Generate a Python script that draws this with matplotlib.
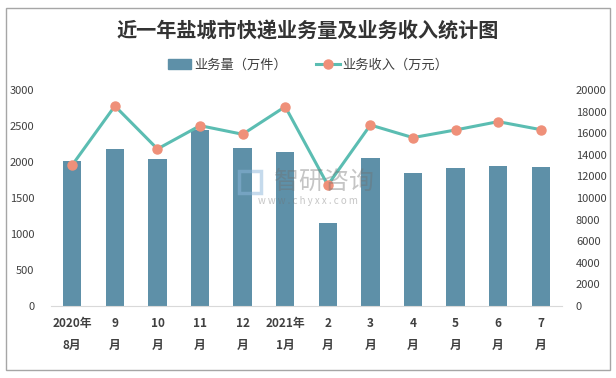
import matplotlib.pyplot as plt
from matplotlib.patches import Rectangle
from matplotlib.lines import Line2D
import numpy as np

plt.rcParams['font.family'] = ['Noto Sans CJK SC', 'DejaVu Sans']

# 数据
months = ["2020年\n8月", "9\n月", "10\n月", "11\n月", "12\n月", "2021年\n1月",
          "2\n月", "3\n月", "4\n月", "5\n月", "6\n月", "7\n月"]
volume = [2010, 2176, 2037, 2444, 2190, 2134, 1148, 2051, 1843, 1912, 1940, 1926]
revenue = [13060, 18520, 14540, 16700, 15900, 18460, 11200, 16760, 15590, 16300, 17070, 16330]

bar_color = '#5E90A8'
line_color = '#5BBDB2'
dot_color = '#EF9079'
text_color = '#404040'

fig = plt.figure(figsize=(6.16, 3.78), dpi=100)
ax = fig.add_axes([51/616, 1-306/378, (562-51)/616, (306-90)/378])
ax2 = ax.twinx()

x = np.arange(len(months))
ax.bar(x, volume, width=0.43, color=bar_color, zorder=2)
ax2.plot(x, revenue, color=line_color, lw=2.2, marker='o', ms=6.5,
         mfc=dot_color, mec=dot_color, zorder=3)

ax.set_xlim(-0.5, len(months) - 0.5)
ax.set_ylim(0, 3000)
ax.set_yticks(range(0, 3001, 500))
ax2.set_ylim(0, 20000)
ax2.set_yticks(range(0, 20001, 2000))

for a in (ax, ax2):
    for s in a.spines.values():
        s.set_visible(False)
    a.tick_params(length=0, labelsize=8, colors=text_color)
ax.spines['bottom'].set_visible(True)
ax.spines['bottom'].set_color('#D9D9D9')
ax.tick_params(axis='y', pad=12)
ax2.tick_params(axis='y', pad=10)

ax.set_xticks(x)
ax.set_xticklabels(months, fontsize=8.5, fontweight='bold', linespacing=1.9)
ax.tick_params(axis='x', pad=8)

# 图例
handles = [Rectangle((0, 0), 1, 1, color=bar_color),
           Line2D([0], [0], color=line_color, lw=2.2, marker='o', ms=6.5,
                  mfc=dot_color, mec=dot_color)]
fig.legend(handles, ["业务量（万件）", "业务收入（万元）"], loc='center',
           bbox_to_anchor=(0.5, 1-65/378), ncol=2, frameon=False, fontsize=9.5,
           handlelength=1.8, columnspacing=2.2, handletextpad=0.2,
           labelcolor=text_color)

fig.text(0.5, 1-31/378, "近一年盐城市快递业务量及业务收入统计图", ha='center', va='center',
         fontsize=14.5, fontweight='bold', color='#333333')

# 水印
fig.text(324/616, 1-182/378, "智研咨询", ha='center', va='center', fontsize=18,
         color='#707070', alpha=0.4)
fig.text(308/616, 1-201/378, "w w w . c h y x x . c o m", ha='center', va='center',
         fontsize=7, color='#707070', alpha=0.4)
fig.patches.append(Rectangle((239/616, 1-193/378), 22/616, 22/378, transform=fig.transFigure,
                             fill=False, edgecolor='#8DB6DA', lw=2.5, alpha=0.5))

# 外框
fig.patches.append(Rectangle((6/616, 8/378), 604/616, 362/378, transform=fig.transFigure,
                             fill=False, edgecolor='#A6A6A6', lw=1))

fig.savefig('out.png', dpi=100)
